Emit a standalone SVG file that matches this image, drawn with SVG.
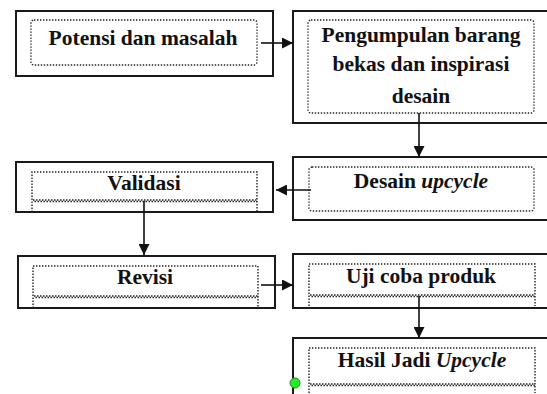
<svg xmlns="http://www.w3.org/2000/svg" width="547" height="394" viewBox="0 0 547 394">
<style>
.outer{fill:#fff;stroke:#1a1a1a;stroke-width:2}
.dot{fill:none;stroke:#222;stroke-width:1.4;stroke-dasharray:1.4 1.6}
.w1{stroke:#222;stroke-width:1.5;stroke-dasharray:1.5 1.5}
.w2{stroke:#222;stroke-width:1.5;stroke-dasharray:1.5 1.5;stroke-dashoffset:1.5}
.t{font-family:"Liberation Serif",serif;font-weight:bold;font-size:21.5px;fill:#111;text-anchor:middle}
.conn{stroke:#111;stroke-width:1.6;fill:none}
</style>
<defs>
<marker id="ah" viewBox="0 0 10 10" refX="10" refY="5" markerWidth="11" markerHeight="11" markerUnits="userSpaceOnUse" orient="auto">
<path d="M0,0 L10,5 L0,10 Z" fill="#111"/>
</marker>
</defs>
<rect width="547" height="394" fill="#fff"/>

<g id="node-potensi">
<rect class="outer" x="16" y="11" width="257" height="65"/>
<rect class="dot" x="31" y="20" width="226" height="45" rx="3"/>
<text class="t" x="143" y="45">Potensi dan masalah</text>
</g>

<g id="node-pengumpulan">
<rect class="outer" x="293" y="11" width="260" height="112"/>
<rect class="dot" x="308" y="20" width="226" height="93" rx="3"/>
<text class="t" x="421" y="42">Pengumpulan barang</text>
<text class="t" x="421" y="71">bekas dan inspirasi</text>
<text class="t" x="421" y="103">desain</text>
</g>

<g id="node-desain">
<rect class="outer" x="293" y="157" width="260" height="63"/>
<rect class="dot" x="309" y="167" width="225" height="44" rx="3"/>
<text class="t" x="421" y="188">Desain <tspan font-style="italic">upcycle</tspan></text>
</g>

<g id="node-validasi">
<rect class="outer" x="16" y="162" width="257" height="50"/>
<path class="dot" d="M32,212 V172 H257 V212"/>
<line class="w1" x1="33" y1="200" x2="257" y2="200"/>
<line class="w2" x1="33" y1="201.5" x2="257" y2="201.5"/>
<text class="t" x="144" y="190">Validasi</text>
</g>

<g id="node-revisi">
<rect class="outer" x="18" y="256" width="257" height="52"/>
<path class="dot" d="M33,308 V266 H258 V308"/>
<line class="w1" x1="34" y1="296" x2="258" y2="296"/>
<line class="w2" x1="34" y1="297.5" x2="258" y2="297.5"/>
<text class="t" x="145" y="284">Revisi</text>
</g>

<g id="node-uji">
<rect class="outer" x="293" y="254" width="260" height="54"/>
<path class="dot" d="M309,306 V264 H535 V306"/>
<line class="w1" x1="310" y1="295" x2="535" y2="295"/>
<line class="w2" x1="310" y1="296.5" x2="535" y2="296.5"/>
<text class="t" x="421" y="283">Uji coba produk</text>
</g>

<g id="node-hasil">
<rect class="outer" x="293" y="338" width="260" height="60"/>
<path class="dot" d="M309,393 V348 H535 V393"/>
<line class="w1" x1="310" y1="384" x2="535" y2="384"/>
<line class="w2" x1="310" y1="385.5" x2="535" y2="385.5"/>
<text class="t" x="422" y="367">Hasil Jadi <tspan font-style="italic">Upcycle</tspan></text>
<circle cx="295" cy="383" r="5" fill="#22ee22" stroke="#2a8a2a" stroke-width="1"/>
</g>

<g id="connectors">
<line class="conn" x1="261" y1="43" x2="293" y2="43" marker-end="url(#ah)"/>
<line class="conn" x1="419" y1="113" x2="419" y2="157" marker-end="url(#ah)"/>
<line class="conn" x1="311" y1="190" x2="276" y2="190" marker-end="url(#ah)"/>
<line class="conn" x1="144" y1="201" x2="144" y2="255" marker-end="url(#ah)"/>
<line class="conn" x1="261" y1="285" x2="293" y2="285" marker-end="url(#ah)"/>
<line class="conn" x1="419" y1="296" x2="419" y2="338" marker-end="url(#ah)"/>
</g>
</svg>
